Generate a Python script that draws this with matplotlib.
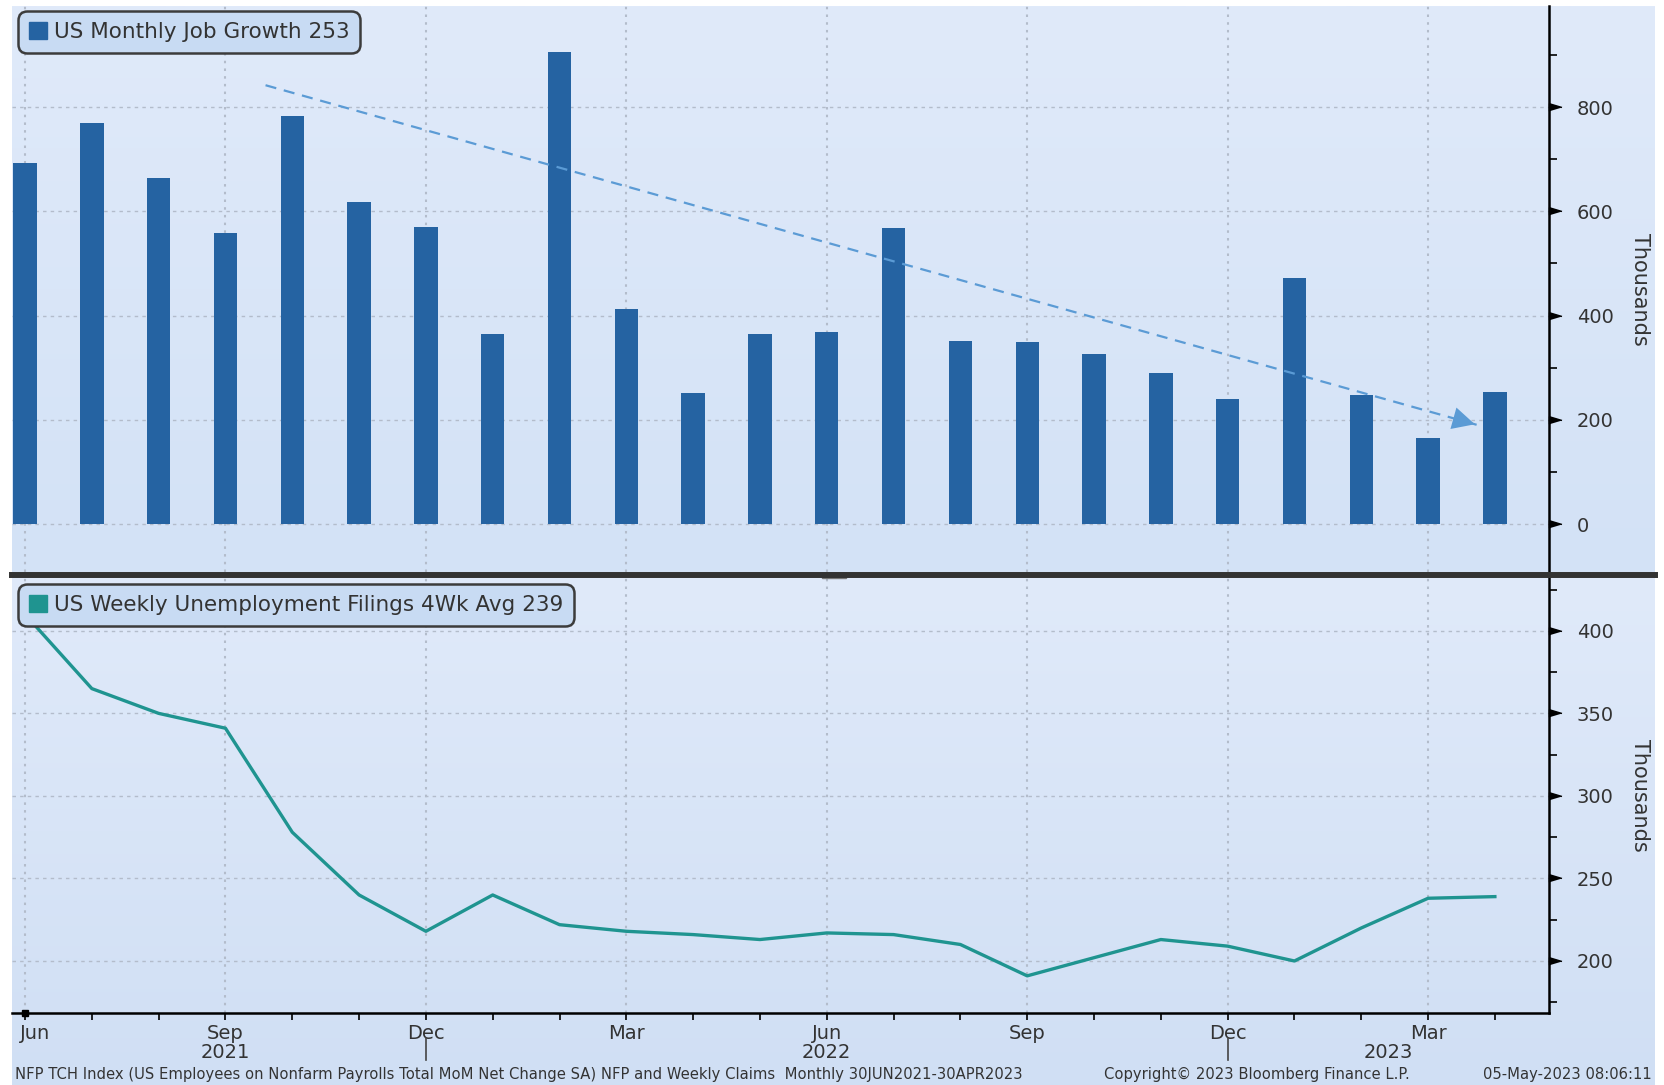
import numpy as np
import matplotlib
matplotlib.use("Agg")
import matplotlib.pyplot as plt
from matplotlib.patches import Rectangle
from matplotlib.lines import Line2D
from matplotlib.transforms import ScaledTranslation

# monthly data, Jun 2021 .. Apr 2023
months = ["Jun", "Jul", "Aug", "Sep", "Oct", "Nov", "Dec",
          "Jan", "Feb", "Mar", "Apr", "May", "Jun", "Jul", "Aug", "Sep", "Oct", "Nov", "Dec",
          "Jan", "Feb", "Mar", "Apr"]
years = ["2021", "2022", "2023"]
job_growth = [692, 769, 664, 558, 782, 617, 570, 364, 906, 413, 252, 364, 368,
              568, 352, 350, 326, 289, 240, 472, 248, 165, 253]
claims_4wk = [410, 365, 350, 341, 278, 240, 218, 240, 222, 218, 216, 213, 217,
              216, 210, 191, 202, 213, 209, 200, 220, 238, 239]
# dashed trend arrow drawn on the chart (start, end) in month index / thousands
trend_start = (3.6, 842)
trend_end = (21.74, 190)

bar_color = "#2563a2"
line_color = "#1f9490"
arrow_color = "#5b9bd5"
text_color = "#333333"
grid_color = "#b3bccb"

W, H = 1664, 1085
fig = plt.figure(figsize=(W / 100, H / 100), dpi=100)
fig.patch.set_facecolor("white")


def box(x0, y0, x1, y1):
    # pixel box (top-left origin) -> figure fraction [l, b, w, h]
    return [x0 / W, 1 - y1 / H, (x1 - x0) / W, (y1 - y0) / H]


# backgrounds with soft vertical gradient
def gradient_bg(rect, c_top, c_bot):
    bg = fig.add_axes(rect, zorder=-5)
    bg.set_axis_off()
    t = np.array(matplotlib.colors.to_rgb(c_top))
    b = np.array(matplotlib.colors.to_rgb(c_bot))
    f = np.linspace(0, 1, 256)[:, None]
    img = (t * (1 - f) + b * f)[:, None, :]
    bg.imshow(img, aspect="auto", extent=[0, 1, 0, 1], interpolation="bilinear")
    bg.set_xlim(0, 1)
    bg.set_ylim(0, 1)


gradient_bg(box(12, 6, 1655, 572), "#e0eafa", "#d3e2f6")
gradient_bg(box(12, 578, 1655, 1085), "#e0eafa", "#d0dff4")

ax1 = fig.add_axes(box(12, 6, 1549, 572))
ax2 = fig.add_axes(box(12, 578, 1549, 1013))

x = np.arange(len(months))
tri = [(0, -0.45), (0, 0.45), (1.5, 0)]

for ax in (ax1, ax2):
    ax.set_facecolor("none")
    ax.set_xlim(-0.195, 22.81)
    for s in ("left", "top"):
        ax.spines[s].set_visible(False)
    ax.spines["right"].set_linewidth(1.8)
    ax.spines["right"].set_color("black")
    ax.yaxis.tick_right()
    ax.set_xticks(x[::3])
    ax.set_xticks(x, minor=True)
    ax.grid(axis="y", which="major", color=grid_color, ls=(0, (2.5, 3)), lw=1)
    ax.grid(axis="x", which="major", color=grid_color, ls=(0, (1.2, 2.5)), lw=1.5)
    ax.set_axisbelow(True)
    ax.tick_params(axis="y", which="major", length=0, pad=20, labelsize=14,
                   labelcolor=text_color)
    ax.tick_params(axis="y", which="minor", length=6, width=1.2, direction="out",
                   color="black")

# top panel: bars
ax1.spines["bottom"].set_visible(False)
ax1.bar(x, job_growth, width=0.35, color=bar_color, zorder=3)
ax1.set_ylim(-92, 994)
ax1.set_yticks(np.arange(0, 801, 200))
ax1.set_yticks(np.arange(100, 901, 200), minor=True)
ax1.tick_params(axis="x", which="both", length=0, labelbottom=False)

ax1.plot([trend_start[0], trend_end[0]], [trend_start[1], trend_end[1]],
         color=arrow_color, lw=1.6, ls=(0, (5, 3.5)), zorder=4)
ax1.annotate("", xy=trend_end,
             xytext=(trend_end[0] - 0.05 * (trend_end[0] - trend_start[0]),
                     trend_end[1] - 0.05 * (trend_end[1] - trend_start[1])),
             arrowprops=dict(arrowstyle="-|>,head_length=0.8,head_width=0.4",
                             color=arrow_color, lw=0, mutation_scale=20),
             zorder=5)

# bottom panel: line
ax2.plot(x, claims_4wk, color=line_color, lw=2.4, zorder=3)
ax2.set_ylim(168.5, 432)
ax2.set_yticks(np.arange(200, 401, 50))
ax2.set_yticks(np.arange(175, 426, 50), minor=True)
ax2.spines["bottom"].set_linewidth(1.8)
ax2.spines["bottom"].set_color("black")
ax2.set_xticklabels([months[i] for i in x[::3]])
ax2.tick_params(axis="x", which="both", length=5, width=1.2, direction="out",
                pad=3, labelsize=14, labelcolor=text_color)
first = ax2.get_xticklabels()[0]
first.set_horizontalalignment("left")
first.set_transform(first.get_transform() + ScaledTranslation(-0.05, 0, fig.dpi_scale_trans))

# triangle markers for major y ticks
for ax in (ax1, ax2):
    ticks = ax.get_yticks()
    ax.plot(np.ones(len(ticks)), ticks, ls="none", marker=tri, markersize=18,
            color="black", transform=ax.get_yaxis_transform(), clip_on=False,
            zorder=6)
    ax.text(1.059, 0.5, "Thousands", rotation=270, ha="center", va="center",
            fontsize=15, color=text_color, transform=ax.transAxes)

# year labels and separators
trans = ax2.get_xaxis_transform()
dec_idx = [i for i, m in enumerate(months) if m == "Dec"]
edges = [x[0]] + dec_idx + [22.81]
for yr, a, b in zip(years, edges[:-1], edges[1:]):
    ax2.text((a + b) / 2, -0.09, yr, ha="center", va="center", fontsize=14,
             color=text_color, transform=trans)
for d in dec_idx:
    ax2.plot([d, d], [-0.057, -0.108], color="#444444", lw=1.2,
             transform=trans, clip_on=False)
ax2.plot([0], [0], marker="s", markersize=5, color="black", transform=trans,
         clip_on=False, zorder=6)

# legends with square swatches
legend_specs = [(ax1, bar_color, "US Monthly Job Growth 253", 11),
                (ax2, line_color, "US Weekly Unemployment Filings 4Wk Avg 239", 584)]
for ax, c, lab, top in legend_specs:
    leg = ax.legend(handles=[Rectangle((0, 0), 1, 1, color=c)], labels=[lab],
                    loc="upper left", bbox_to_anchor=(18 / W, 1 - top / H),
                    bbox_transform=fig.transFigure, borderaxespad=0,
                    fontsize=15.5, handlelength=0.85, handleheight=0.85,
                    handletextpad=0.3, borderpad=0.5, fancybox=True,
                    framealpha=1, labelcolor=text_color)
    fr = leg.get_frame()
    fr.set_facecolor("#c8dbf3")
    fr.set_edgecolor("#3c3c3c")
    fr.set_linewidth(1.8)
    fr.set_boxstyle("round,pad=0,rounding_size=0.4")

# panel separator
fig.add_artist(Line2D([12 / W, 1655 / W], [1 - 575 / H] * 2, color="#333333",
                      lw=4.3, transform=fig.transFigure))
fig.add_artist(Rectangle((822 / W, 1 - 578 / H), 24 / W, 5 / H,
                         color="#777777", transform=fig.transFigure))

# footer
fy = 1 - 1074 / H
fig.text(15 / W, fy, "NFP TCH Index (US Employees on Nonfarm Payrolls Total MoM Net "
         "Change SA) NFP and Weekly Claims  Monthly 30JUN2021-30APR2023",
         fontsize=10.6, color=text_color, va="center", ha="left")
fig.text(1104 / W, fy, "Copyright\u00a9 2023 Bloomberg Finance L.P.",
         fontsize=10.6, color=text_color, va="center", ha="left")
fig.text(1652 / W, fy, "05-May-2023 08:06:11", fontsize=10.6, color=text_color,
         va="center", ha="right")

fig.savefig("out.png", dpi=100, facecolor=fig.get_facecolor())
